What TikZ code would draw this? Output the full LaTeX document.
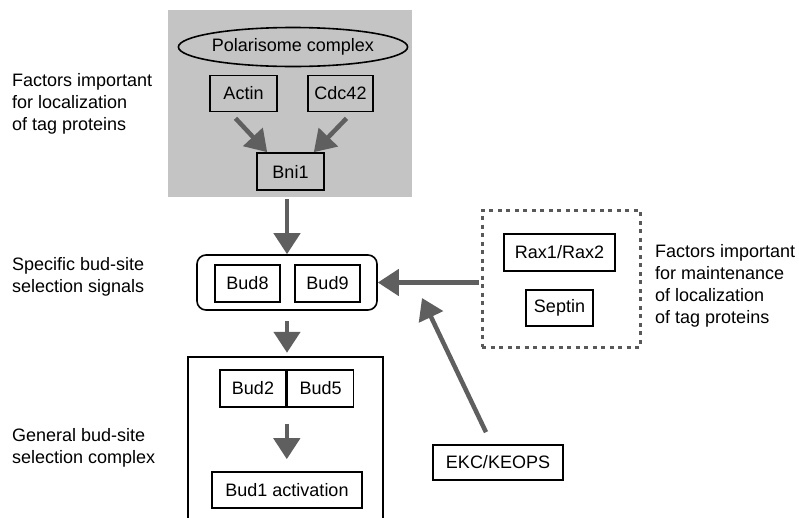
\documentclass[tikz,border=0pt]{standalone}
\usepackage{fontspec}
\setmainfont{Liberation Sans}
\usetikzlibrary{shapes.geometric, arrows.meta, positioning, calc}
\definecolor{shadecolor}{RGB}{196,196,196}
\definecolor{arrowcolor}{RGB}{95,95,95}

\begin{document}
\begin{tikzpicture}[
    x=1pt, y=-1pt,
    font=\fontsize{18}{22}\selectfont,
    factor/.style={draw, line width=1.6pt, inner sep=0pt, minimum height=36pt},
    group/.style={draw, line width=1.6pt, rounded corners=9pt},
    bigarrow/.style={-{Triangle[length=21pt,width=26pt]}, line width=4.5pt, arrowcolor},
    note/.style={align=left, anchor=west, inner sep=0pt}
]
    \useasboundingbox (0,0) rectangle (799,517);

    % Localization factors
    \fill[shadecolor] (168,10) rectangle (412,197);
    \node[draw, ellipse, line width=1.6pt, inner sep=0pt, minimum width=207pt, minimum height=39pt] (polar) at (293,47) {Polarisome complex};
    \node[factor, minimum width=67pt] (actin) at (243.5,93.5) {Actin};
    \node[factor, minimum width=65pt] (cdc42) at (340.5,93.5) {Cdc42};
    \node[factor, minimum width=67pt, minimum height=37pt] (bni1) at (290.5,171.5) {Bni1};
    \draw[bigarrow] ([xshift=-8pt,yshift=-6pt]actin.south) -- ([xshift=11pt]bni1.north west);
    \draw[bigarrow] ([xshift=6pt,yshift=-6pt]cdc42.south) -- ([xshift=-11pt]bni1.north east);

    % Bud-site selection signals
    \node[group, minimum width=180pt, minimum height=55pt] (signal) at (287,282.5) {};
    \node[factor, minimum width=65pt, minimum height=37pt] (bud8) at (247.5,283.5) {Bud8};
    \node[factor, minimum width=65pt, minimum height=37pt] (bud9) at (327.5,283.5) {Bud9};
    \draw[bigarrow] ([yshift=-8pt]signal.north |- bni1.south) -- (signal.north);

    % Maintenance factors
    \node[draw, line width=3pt, black!65, dash pattern=on 4pt off 4.5pt, minimum width=158pt, minimum height=137pt] (maint) at (561,278.5) {};
    \node[factor, minimum width=111pt, minimum height=37pt] (rax) at (559.5,252.5) {Rax1/Rax2};
    \node[factor, minimum width=67pt] (septin) at (559.5,308) {Septin};
    \draw[bigarrow] ([xshift=-2pt]maint.west |- signal.east) -- (signal.east);

    % EKC/KEOPS
    \node[factor, minimum width=130pt, minimum height=35pt] (ekc) at (498,462.5) {EKC/KEOPS};
    \coordinate (ekctip) at (422,298);
    \draw[bigarrow] ([xshift=-12pt,yshift=12pt]ekc.north) -- (ekctip);

    % General bud-site selection complex
    \node[minimum width=195pt, minimum height=170pt, inner sep=0pt] (general) at (285.5,442) {};
    \draw[line width=1.6pt] (general.south west) |- (general.north east) -- (general.south east);
    \node[factor, minimum width=66pt, minimum height=37pt] (bud2) at (253,388.5) {Bud2};
    \node[factor, minimum width=66pt, minimum height=37pt, right=0pt of bud2] (bud5) {Bud5};
    \node[factor, minimum width=150pt] (bud1) at (287,490) {Bud1 activation};
    \draw[bigarrow] ([yshift=-10pt]signal.south) -- ([yshift=4pt]signal.south |- general.north);
    \draw[bigarrow, shorten <=16pt, shorten >=12pt] (bud2.south east) -- (bud2.south east |- bud1.north);

    % Annotations
    \node[note] (locnote) at (12,104) {Factors important\\for localization\\of tag proteins};
    \node[note] (signote) at (12,277) {Specific bud-site\\selection signals};
    \node[note] (gennote) at (12,448) {General bud-site\\selection complex};
    \node[note] (maintnote) at (655,286) {Factors important\\for maintenance\\of localization\\of tag proteins};
\end{tikzpicture}
\end{document}
